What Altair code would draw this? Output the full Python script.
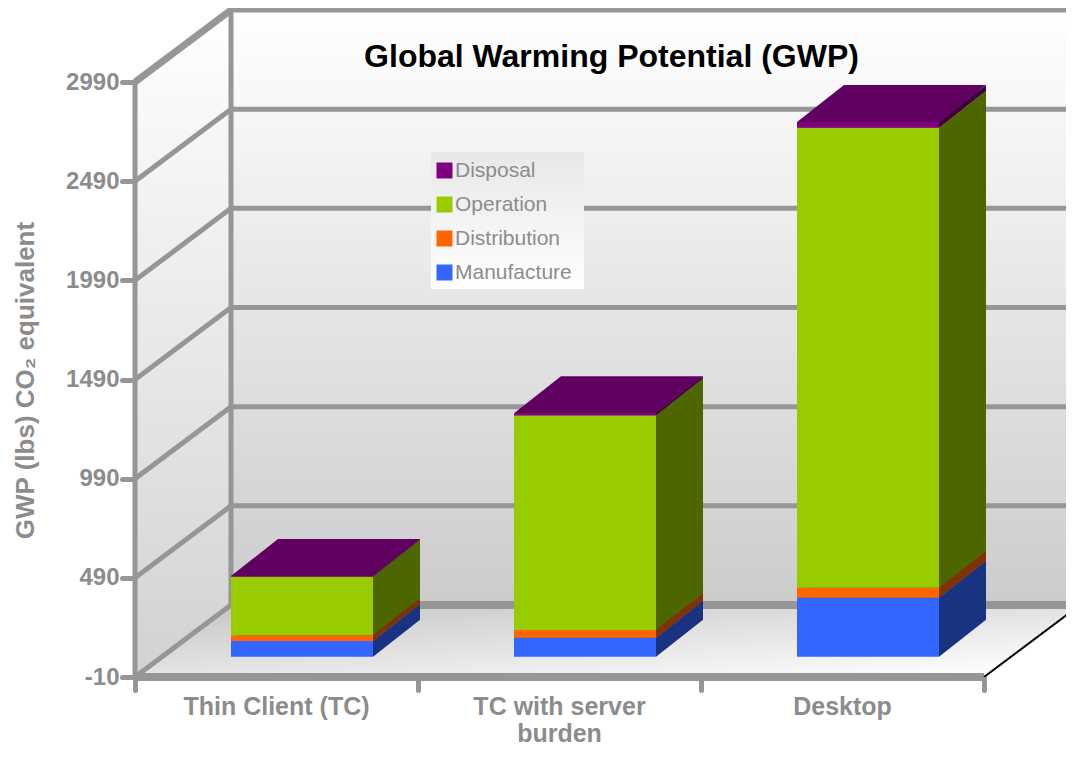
import altair as alt
import pandas as pd

categories = ["Thin Client (TC)", "TC with server\nburden", "Desktop"]
series = ["Manufacture", "Distribution", "Operation", "Disposal"]
manufacture = [79, 96, 298]
distribution = [30, 39, 50]
operation = [294, 1081, 2319]
disposal = [4, 12, 29]
tick_values = [-10, 490, 990, 1490, 1990, 2490, 2990]
front_colors = ["#3366ff", "#ff6600", "#99cc00", "#800080"]
side_colors = ["#1a3380", "#803300", "#4d6600", "#400040"]
top_colors = ["#1a3380", "#803300", "#4d6600", "#600060"]
values = [manufacture, distribution, operation, disposal]

W, H = 931, 669
PX_Y = 595 / 3000
XMAX = W / 283
YMIN, YMAX = -10, -10 + H / PX_Y
# oblique projection of the depth axis, in data units
WALL_DX, WALL_DY = 96 / 283, 72 / PX_Y
BAR_W, BAR_DX, BAR_DY = 142 / 283, 47 / 283, 37 / PX_Y
BAR_LIFT = 92
GREY = "#969696"
TEXT = "#8c8c8c"
FONT = "Liberation Sans"

xs = alt.Scale(domain=[0, XMAX], range=[0, W], nice=False, zero=False)
ys = alt.Scale(domain=[YMIN, YMAX], range=[H, 0], nice=False, zero=False)

x_axis = alt.Axis(values=[0, 1, 2, 3], labels=False, domain=False, grid=False, title=None,
                  tickSize=13, tickWidth=5, tickColor=GREY, tickCap="round")
y_axis = alt.Axis(values=tick_values, domain=False, grid=False, labelExpr="'' + datum.value",
                  title="GWP (lbs) CO\u2082 equivalent",
                  tickSize=13, tickWidth=5, tickColor=GREY, tickCap="round",
                  labelFont=FONT, labelFontSize=24, labelFontWeight="bold",
                  labelColor=TEXT, labelPadding=3,
                  titleFont=FONT, titleFontSize=26, titleFontWeight="bold",
                  titleColor=TEXT, titleX=-110, titleY=372, titleAngle=270,
                  titleAnchor="middle", titleAlign="center", titleBaseline="middle")


def X(f="x"):
    return alt.X(f"{f}:Q", scale=xs, axis=x_axis)


def Y(f="y"):
    return alt.Y(f"{f}:Q", scale=ys, axis=y_axis)


def grad(c0, c1, x2=0, y2=1):
    return {"gradient": "linear", "x1": 0, "y1": 0, "x2": x2, "y2": y2,
            "stops": [{"offset": 0, "color": c0}, {"offset": 1, "color": c1}]}


layers = []

# walls and floor
left_wall = pd.DataFrame({"x": [0, WALL_DX],
                          "y": [tick_values[0], tick_values[0] + WALL_DY],
                          "y2": [tick_values[-1], tick_values[-1] + WALL_DY]})
layers.append(alt.Chart(left_wall).mark_area(color=grad("#ffffff", "#d2d2d2"))
              .encode(x=X(), y=Y(), y2="y2:Q"))
back_wall = pd.DataFrame({"x": [WALL_DX], "x2": [XMAX],
                          "y": [tick_values[0] + WALL_DY],
                          "y2": [tick_values[-1] + WALL_DY]})
layers.append(alt.Chart(back_wall).mark_rect(color=grad("#ffffff", "#cccccc"))
              .encode(x=X(), x2="x2:Q", y=Y(), y2="y2:Q"))
floor = pd.DataFrame({"y": [tick_values[0], tick_values[0] + WALL_DY],
                      "x": [0, WALL_DX], "x2": [3, 3 + WALL_DX]})
layers.append(alt.Chart(floor).mark_area(orient="horizontal", clip=True,
                                         color=grad("#c4c4c4", "#ffffff", 0.9, 1))
              .encode(x=X(), x2="x2:Q", y=Y()))

# gridlines
grid_rows = []
for v in tick_values:
    grid_rows += [{"t": v, "o": 0, "x": 0, "y": v},
                  {"t": v, "o": 1, "x": WALL_DX, "y": v + WALL_DY},
                  {"t": v, "o": 2, "x": XMAX, "y": v + WALL_DY}]
grid = pd.DataFrame(grid_rows)
layers.append(alt.Chart(grid[grid.t != tick_values[0]]).mark_line(color=GREY, strokeWidth=5, clip=True)
              .encode(x=X(), y=Y(), detail="t:N", order="o:Q"))
layers.append(alt.Chart(grid[(grid.t == tick_values[0]) & (grid.o < 2)]).mark_line(color=GREY, strokeWidth=5)
              .encode(x=X(), y=Y(), order="o:Q"))
layers.append(alt.Chart(grid[(grid.t == tick_values[0]) & (grid.o > 0)]).mark_line(color=GREY, strokeWidth=8, clip=True)
              .encode(x=X(), y=Y(), order="o:Q"))
layers.append(alt.Chart(grid[(grid.t == tick_values[-1]) & (grid.o < 2)]).mark_line(color=GREY, strokeWidth=7)
              .encode(x=X(), y=Y(), order="o:Q"))
# front floor edge and right floor edge
edge = pd.DataFrame({"x": [0, 3], "y": [tick_values[0]] * 2})
layers.append(alt.Chart(edge).mark_line(color=GREY, strokeWidth=8).encode(x=X(), y=Y()))
right_edge = pd.DataFrame({"x": [3, 3 + WALL_DX], "y": [tick_values[0], tick_values[0] + WALL_DY]})
layers.append(alt.Chart(right_edge).mark_line(color="#000000", strokeWidth=2, clip=True).encode(x=X(), y=Y()))
# verticals
verticals = pd.DataFrame({"x": [0, WALL_DX],
                          "y": [tick_values[0], tick_values[0] + WALL_DY],
                          "y2": [tick_values[-1], tick_values[-1] + WALL_DY]})
layers.append(alt.Chart(verticals).mark_rule(color=GREY, strokeWidth=5)
              .encode(x=X(), y=Y(), y2="y2:Q"))

# bars
front_rows = []
for ci, cat in enumerate(categories):
    left = ci + WALL_DX
    right = left + BAR_W
    base = BAR_LIFT
    for si, name in enumerate(series):
        v0, v1 = base, base + values[si][ci]
        base = v1
        front_rows.append({"series": name, "x": left, "x2": right, "y": v0, "y2": v1})
        side = pd.DataFrame({"x": [right, right + BAR_DX], "y": [v0, v0 + BAR_DY], "y2": [v1, v1 + BAR_DY]})
        layers.append(alt.Chart(side).mark_area(color=side_colors[si]).encode(x=X(), y=Y(), y2="y2:Q"))
        top = pd.DataFrame({"y": [v1, v1 + BAR_DY], "x": [left, left + BAR_DX], "x2": [right, right + BAR_DX]})
        layers.append(alt.Chart(top).mark_area(orient="horizontal", color=top_colors[si])
                      .encode(x=X(), x2="x2:Q", y=Y()))

# legend background
layers.append(alt.Chart(pd.DataFrame({"a": [0]})).mark_rect(color=grad("#e8e8e8", "#ffffff"))
              .encode(x=alt.value(296), x2=alt.value(449), y=alt.value(144), y2=alt.value(281)))

front = alt.Chart(pd.DataFrame(front_rows)).mark_rect().encode(
    x=X(), x2="x2:Q", y=Y(), y2="y2:Q",
    color=alt.Color("series:N",
                    scale=alt.Scale(domain=series[::-1], range=front_colors[::-1]),
                    legend=alt.Legend(title=None, orient="none", legendX=299, legendY=152,
                                      symbolType="square", symbolSize=256, symbolStrokeWidth=0,
                                      labelFont=FONT, labelFontSize=21, labelColor=TEXT,
                                      labelOffset=0, rowPadding=12, padding=0, zindex=1)),
)
layers.append(front)

# category labels
labels = pd.DataFrame({"x": [i + 0.5 for i in range(len(categories))], "label": categories})
layers.append(alt.Chart(labels).mark_text(font=FONT, fontSize=25, fontWeight="bold", color=TEXT,
                                          lineBreak="\n", lineHeight=27, baseline="alphabetic",
                                          align="center")
              .encode(x=X(), y=alt.value(H + 38), text="label:N"))

chart = alt.layer(*layers).properties(
    width=W, height=H,
    padding={"left": 127, "top": 0, "right": 0, "bottom": 70},
    autosize=alt.AutoSizeParams(type="none"),
    title=alt.TitleParams("Global Warming Potential (GWP)", font=FONT, fontSize=32, fontWeight="bold",
                          color="#000000", anchor="middle", frame="group", offset=0, dy=78, dx=11),
).configure_view(stroke=None)

chart.save("out.html", embed_options={"renderer": "svg", "actions": False})
